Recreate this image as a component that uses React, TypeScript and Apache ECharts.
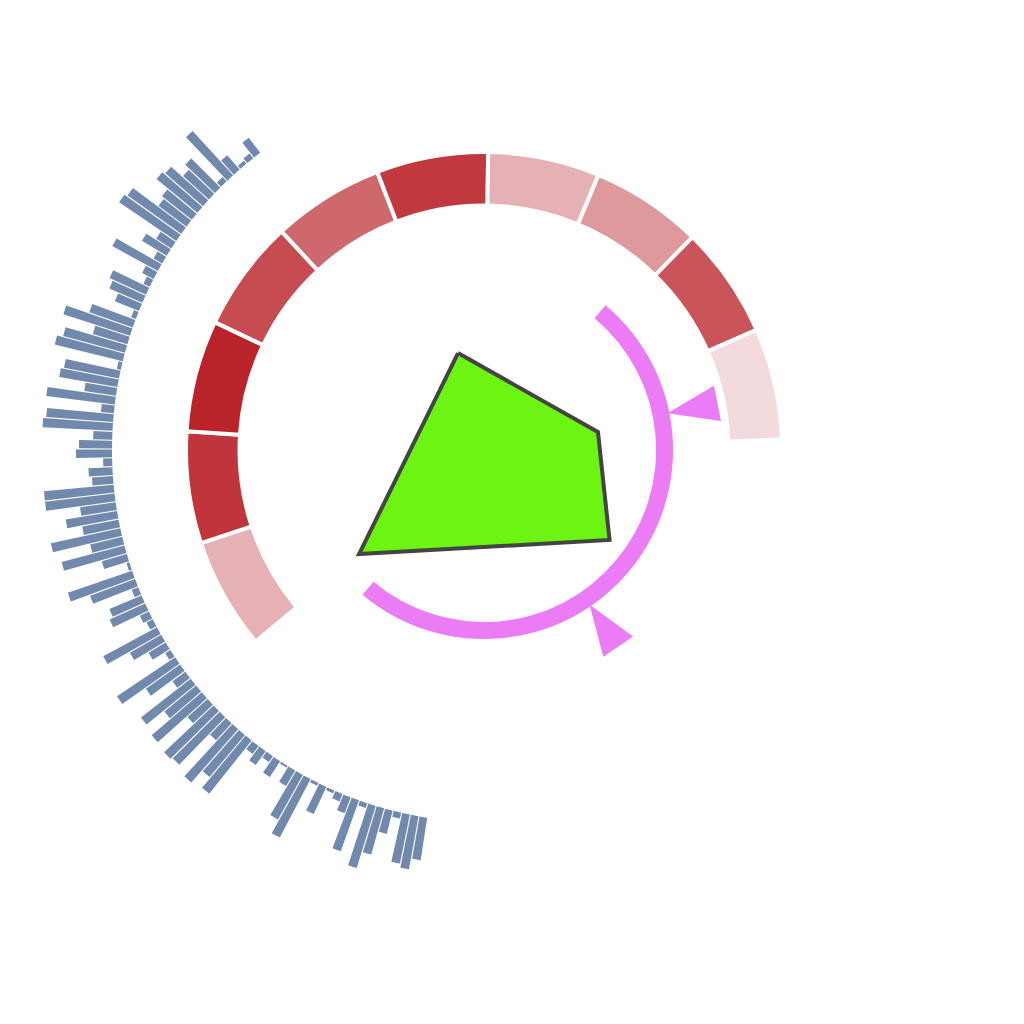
import React, { useEffect, useRef } from 'react';
import * as echarts from 'echarts';

// Outer radial bars (top-left, counter-clockwise to bottom)
const barValues = [
  19, 6, 4, 19, 60, 6, 41, 35, 50, 53, 38, 35, 66, 69, 18, 29, 10, 52, 13, 7, 40, 36, 26, 5, 46, 70,
  36, 64, 70, 4, 56, 59, 32, 69, 13, 67,
  70, 19, 33, 36, 9, 24, 21, 70, 70, 36,
  52, 37, 71, 33, 65, 26, 3, 68, 48, 7,
  35, 39, 10, 7, 61, 36, 20, 6, 70, 42,
  16, 63, 41, 66, 27, 68, 66, 23, 71, 55,
  68, 10, 17, 7, 19, 2, 18, 51, 66, 3,
  30, 3, 8, 17, 54, 5, 65, 48, 24, 6,
  50, 54, 43,
];
const barCategories = barValues.map((_, i) => 'B' + (i + 1));

// Ring segments (clockwise from bottom-left), equal sizes, shaded by intensity
const ringCategories = ['R1', 'R2', 'R3', 'R4', 'R5', 'R6', 'R7', 'R8', 'R9', 'R10'];
const ringSizes = [1, 1, 1, 1, 1, 1, 1, 1, 1, 1];
const ringIntensity = [25, 88, 97, 76, 62, 86, 25, 37, 72, 4];

// Gauge pointers
const gaugeValues = [21.5, 58.7];

// Central polygon (polar: radius, angle in degrees)
const polygonRadius = [100.4, 115.4, 154.4, 162.6];
const polygonAngle = [105.0, 9.0, 324.4, 219.8];

export default function App() {
  const ref = useRef<HTMLDivElement>(null);
  useEffect(() => {
    const chart = echarts.init(ref.current as HTMLDivElement, null, { renderer: 'svg' });
    const polyData = polygonRadius.map((r, i) => [r, polygonAngle[i]]);
    polyData.push([polygonRadius[0], polygonAngle[0]]);
    chart.setOption({
      animation: false,
      backgroundColor: '#ffffff',
      polar: [
        { center: [484, 450], radius: [372, 445] },
        { center: [484, 450], radius: 200 },
      ],
      angleAxis: [
        {
          polarIndex: 0,
          type: 'category',
          data: barCategories,
          startAngle: 126.9,
          endAngle: 261.3,
          clockwise: false,
          show: false,
        },
        {
          polarIndex: 1,
          type: 'value',
          min: 0,
          max: 360,
          startAngle: 0,
          clockwise: false,
          show: false,
        },
      ],
      radiusAxis: [
        { polarIndex: 0, type: 'value', min: 0, max: 73, show: false },
        { polarIndex: 1, type: 'value', min: 0, max: 200, show: false },
      ],
      series: [
        {
          type: 'bar',
          coordinateSystem: 'polar',
          polarIndex: 0,
          data: barValues,
          barCategoryGap: '12%',
          itemStyle: { color: '#7189ad' },
          silent: true,
        },
        {
          type: 'pie',
          center: [484, 450],
          radius: [244.5, 298],
          startAngle: 220,
          endAngle: 2,
          clockwise: true,
          label: { show: false },
          labelLine: { show: false },
          itemStyle: { borderColor: '#ffffff', borderWidth: 4 },
          silent: true,
          data: ringCategories.map((name, i) => ({
            name,
            value: ringSizes[i],
            itemStyle: { color: echarts.color.lerp(ringIntensity[i] / 100, ['#f5e2e4', '#b81d24']) },
          })),
        },
        {
          type: 'gauge',
          center: [484, 450],
          radius: 189,
          startAngle: 50,
          endAngle: -130,
          min: 0,
          max: 100,
          axisLine: { lineStyle: { width: 17, color: [[1, '#ec7cf6']] } },
          axisTick: { show: false },
          splitLine: { show: false },
          axisLabel: { show: false },
          progress: { show: false },
          anchor: { show: false },
          title: { show: false },
          detail: { show: false },
          pointer: {
            show: true,
            icon: 'path://M0,0L10,0L5,10Z',
            length: 51,
            width: 36,
            offsetCenter: [0, -187],
            keepAspect: false,
            itemStyle: { color: '#ec7cf6' },
          },
          silent: true,
          data: gaugeValues.map((v) => ({ value: v })),
        },
        {
          type: 'line',
          coordinateSystem: 'polar',
          polarIndex: 1,
          data: polyData,
          symbol: 'none',
          smooth: false,
          lineStyle: { color: '#444444', width: 4, join: 'miter' },
          areaStyle: { color: '#6cf412', opacity: 1 },
          silent: true,
        },
      ],
    });
    return () => chart.dispose();
  }, []);
  return (
    <div
      ref={ref}
      style={{ position: 'absolute', left: 0, top: 0, width: 1024, height: 1024 }}
    />
  );
}
